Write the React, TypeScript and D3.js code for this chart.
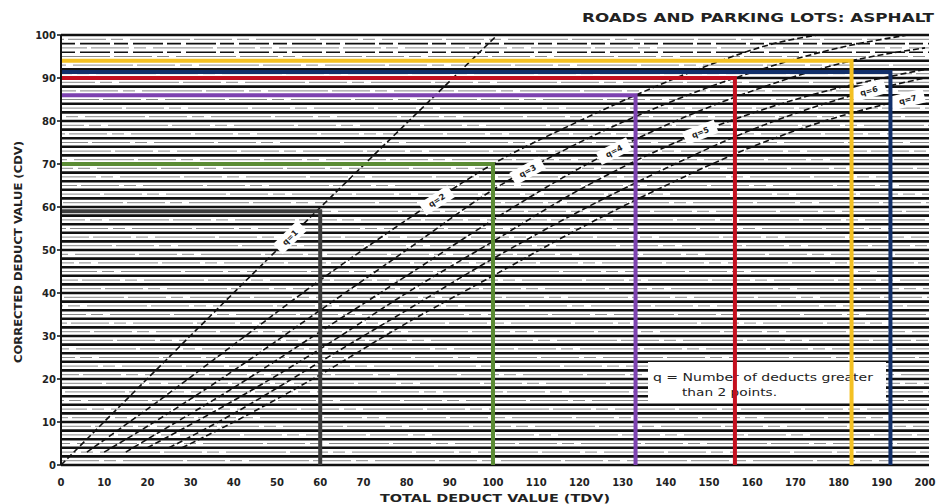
import * as d3 from "d3";

// --- data ---
const TITLE = "ROADS AND PARKING LOTS:  ASPHALT";
const X_TITLE = "TOTAL DEDUCT VALUE (TDV)";
const Y_TITLE = "CORRECTED DEDUCT VALUE (CDV)";
const NOTE_LINE1 = "q = Number of deducts greater";
const NOTE_LINE2 = "than 2 points.";

const CDV_TICKS = [0, 10, 20, 30, 40, 50, 60, 70, 80, 90, 100];
const TDV_TICKS = [0, 10, 20, 30, 40, 50, 60, 70, 80, 90, 100, 110, 120, 130, 140, 150, 160, 170, 180, 190, 200];
const GRID_ROWS = [0, 2, 4, 6, 8, 10, 12, 14, 16, 18, 20, 22, 24, 26, 28, 30, 32, 34, 36, 38, 40, 42, 44, 46, 48, 50, 52, 54, 56, 58, 60, 62, 64, 66, 68, 70, 72, 74, 76, 78, 80, 82, 84, 86, 88, 90, 92, 94, 96, 98, 100];

const Q_NAMES = ["q=1", "q=2", "q=3", "q=4", "q=5", "q=6", "q=7"];
const Q1 = [[0, 0], [50, 50], [101, 100]];
const Q2 = [[6, 3], [20, 13], [40, 28], [60, 43], [80, 57], [100, 70], [120, 80], [133, 86], [150, 93], [165, 98], [175, 100]];
const Q3 = [[10, 3], [20, 9], [40, 22], [60, 36], [80, 50], [100, 64], [120, 75], [140, 84], [156, 90], [180, 97], [196, 100]];
const Q4 = [[15, 3], [20, 6], [40, 18], [60, 31], [80, 44], [100, 57], [120, 69], [140, 79], [160, 87], [183, 94], [200, 97]];
const Q5 = [[20, 4], [40, 15], [60, 27], [80, 40], [100, 52], [120, 64], [147, 77], [170, 85], [200, 92]];
const Q6 = [[25, 4], [40, 12], [60, 24], [80, 36], [100, 48], [120, 59], [140, 69], [160, 78], [187, 87], [200, 90]];
const Q7 = [[28, 4], [40, 10], [60, 21], [80, 33], [100, 44], [120, 55], [140, 65], [160, 74], [180, 81], [200, 86]];
const Q_CURVES = [Q1, Q2, Q3, Q4, Q5, Q6, Q7];
const Q_LABEL_TDV = [53, 87, 108, 128, 148, 187, 196];

const READ_TDV = [60, 100, 133, 192, 156, 183];
const READ_CDV = [59, 70, 86, 91.4, 90, 94];

const READ_COLORS = ["#3c3c3c", "#5b8c34", "#7d42b0", "#12306b", "#c4101f", "#f4c122"];

function valueAt(curve: number[][], t: number) {
  const xs = curve.map((d) => d[0]);
  const i = Math.max(1, Math.min(curve.length - 1, d3.bisectLeft(xs, t)));
  const [x0, y0] = curve[i - 1];
  const [x1, y1] = curve[i];
  return y0 + ((t - x0) / (x1 - x0)) * (y1 - y0);
}

export default function App() {
  const width = 936;
  const height = 504;
  const x = d3.scaleLinear().domain([0, 200]).range([61, 925]);
  const y = d3.scaleLinear().domain([0, 100]).range([465, 35]);

  const line = d3
    .line<number[]>()
    .x((d) => x(d[0]))
    .y((d) => y(d[1]))
    .curve(d3.curveMonotoneX);

  const font = "'DejaVu Sans', sans-serif";

  return (
    <svg
      width={width}
      height={height}
      style={{ position: "absolute", left: 0, top: 0, background: "#fff" }}
    >
      {/* scanned grid rows */}
      <g>
        {GRID_ROWS.map((v, i) => (
          <g key={v}>
            <line
              x1={x(0)}
              x2={x(200) + 4}
              y1={y(v)}
              y2={y(v)}
              stroke="#111"
              strokeWidth={v >= 96 && v < 100 ? 1.6 : 2.6}
              strokeDasharray={v >= 96 && v < 100 ? "14,5,30,4" : undefined}
            />
            {v < 100 && (
              <line
                x1={x(0)}
                x2={x(200) + 4}
                y1={y(v + 1)}
                y2={y(v + 1)}
                stroke="#888"
                strokeWidth={1}
                strokeDasharray="38,5,12,7,60,4"
                strokeDashoffset={i * 23}
              />
            )}
          </g>
        ))}
      </g>

      {/* q curves */}
      <g fill="none" stroke="#111" strokeWidth={1.6} strokeDasharray="6,3">
        {Q_CURVES.map((c, i) => (
          <path key={Q_NAMES[i]} d={line(c) ?? ""} />
        ))}
      </g>

      {/* curve labels */}
      {Q_CURVES.map((c, i) => {
        const t = Q_LABEL_TDV[i];
        const v = valueAt(c, t);
        const dx = x(t + 3) - x(t - 3);
        const dy = y(valueAt(c, t + 3)) - y(valueAt(c, t - 3));
        const ang = (Math.atan2(dy, dx) * 180) / Math.PI;
        return (
          <g key={Q_NAMES[i]} transform={`translate(${x(t)},${y(v)}) rotate(${ang})`}>
            <rect x={-17} y={-7} width={34} height={14} fill="#fff" />
            <text
              textAnchor="middle"
              dy="0.35em"
              fontFamily={font}
              fontSize={8}
              fontWeight="bold"
              fill="#222"
            >
              {Q_NAMES[i]}
            </text>
          </g>
        );
      })}

      {/* note box */}
      <g>
        <rect x={648} y={362} width={238} height={40} fill="#fff" />
        <text
          x={653}
          y={381}
          fontFamily={font}
          fontSize={10}
          fill="#222"
          textLength={220}
          lengthAdjust="spacingAndGlyphs"
        >
          {NOTE_LINE1}
        </text>
        <text
          x={682}
          y={396}
          fontFamily={font}
          fontSize={10}
          fill="#222"
          textLength={95}
          lengthAdjust="spacingAndGlyphs"
        >
          {NOTE_LINE2}
        </text>
      </g>

      {/* example readings */}
      <g fill="none" strokeWidth={4} strokeLinejoin="miter">
        {READ_TDV.map((t, i) => (
          <polyline
            key={i}
            stroke={READ_COLORS[i]}
            points={`${x(0)},${y(READ_CDV[i])} ${x(t)},${y(READ_CDV[i])} ${x(t)},${y(0)}`}
          />
        ))}
      </g>

      {/* axes */}
      <line x1={x(0)} x2={x(0)} y1={y(100)} y2={y(0)} stroke="#111" strokeWidth={2} />
      <g fontFamily={font} fontSize={10} fontWeight="bold" fill="#222">
        {CDV_TICKS.map((v) => (
          <g key={v}>
            <line x1={x(0) - 4} x2={x(0)} y1={y(v)} y2={y(v)} stroke="#111" strokeWidth={1.5} />
            <text x={x(0) - 5} y={y(v)} dy="0.35em" textAnchor="end">
              {v}
            </text>
          </g>
        ))}
        {TDV_TICKS.map((v) => (
          <text key={v} x={x(v)} y={486} textAnchor="middle">
            {v}
          </text>
        ))}
      </g>

      <text
        x={495}
        y={502}
        textAnchor="middle"
        fontFamily={font}
        fontSize={11}
        fontWeight="bold"
        fill="#222"
        textLength={230}
        lengthAdjust="spacingAndGlyphs"
      >
        {X_TITLE}
      </text>
      <text
        transform={`translate(22,252) rotate(-90)`}
        textAnchor="middle"
        fontFamily={font}
        fontSize={10}
        fontWeight="bold"
        fill="#222"
        textLength={222}
        lengthAdjust="spacingAndGlyphs"
      >
        {Y_TITLE}
      </text>
      <text
        x={582}
        y={22}
        fontFamily={font}
        fontSize={12}
        fontWeight="bold"
        fill="#222"
        textLength={352}
        lengthAdjust="spacingAndGlyphs"
      >
        {TITLE}
      </text>
    </svg>
  );
}
